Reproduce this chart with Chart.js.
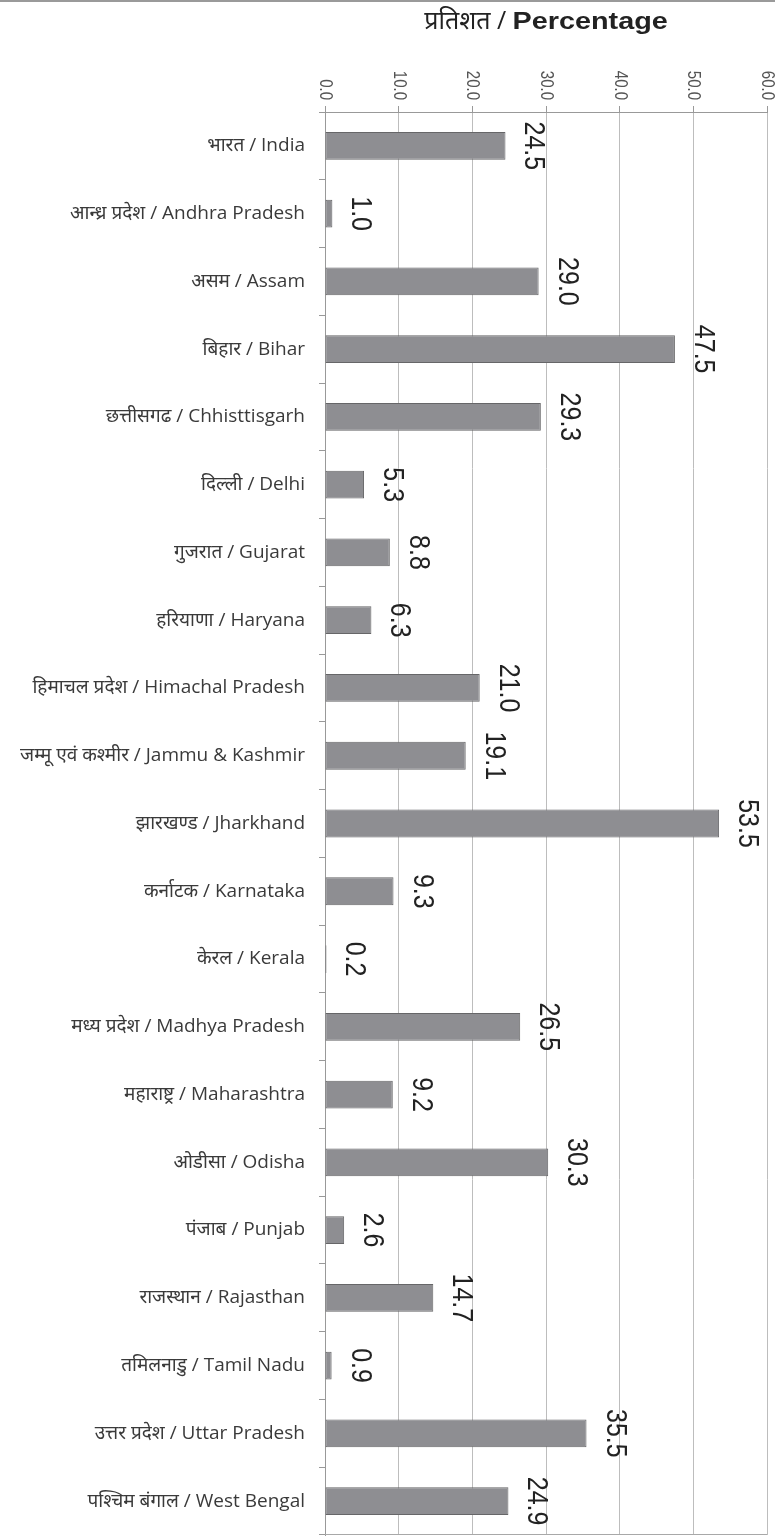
<!DOCTYPE html>
<html>
<head>
<meta charset="utf-8">
<script src="https://cdn.jsdelivr.net/npm/chart.js@4.4.1/dist/chart.umd.min.js"></script>
<style>
  html, body { margin: 0; padding: 0; background: #fff; }
  #wrap { width: 775px; height: 1539px; }
</style>
</head>
<body>
<div id="wrap"><canvas id="chart" width="775" height="1539"></canvas></div>
<script>
// Data
const statesHindi = [
    'भारत', 'आन्ध्र प्रदेश', 'असम', 'बिहार', 'छत्तीसगढ', 'दिल्ली', 'गुजरात',
    'हरियाणा', 'हिमाचल प्रदेश', 'जम्मू एवं कश्मीर', 'झारखण्ड', 'कर्नाटक', 'केरल',
    'मध्य प्रदेश', 'महाराष्ट्र', 'ओडीसा', 'पंजाब', 'राजस्थान', 'तमिलनाडु',
    'उत्तर प्रदेश', 'पश्चिम बंगाल'
];
const statesEnglish = [
    'India', 'Andhra Pradesh', 'Assam', 'Bihar', 'Chhisttisgarh', 'Delhi', 'Gujarat',
    'Haryana', 'Himachal Pradesh', 'Jammu & Kashmir', 'Jharkhand', 'Karnataka', 'Kerala',
    'Madhya Pradesh', 'Maharashtra', 'Odisha', 'Punjab', 'Rajasthan', 'Tamil Nadu',
    'Uttar Pradesh', 'West Bengal'
];
const percentages = [
    24.5, 1.0, 29.0, 47.5, 29.3, 5.3, 8.8,
    6.3, 21.0, 19.1, 53.5, 9.3, 0.2,
    26.5, 9.2, 30.3, 2.6, 14.7, 0.9,
    35.5, 24.9
];
const axisMin = 0;
const axisMax = 60;
const axisStep = 10;
const titleHindi = 'प्रतिशत';
const titleEnglish = 'Percentage';

const labels = statesHindi.map((h, i) => `${h} / ${statesEnglish[i]}`);

const sansStack = '"Open Sans", "Noto Sans", "Noto Sans Devanagari", sans-serif';
const arialStack = '"Liberation Sans", Arial, "Noto Sans Devanagari", sans-serif';
const stretch = 1.2; // reference glyphs look a bit wide

// Draws the rotated tick labels, the value labels, the title and the frame
const overlay = {
    id: 'overlay',
    afterDraw(chart) {
        const { ctx, chartArea: a, scales: { x, y } } = chart;
        ctx.save();

        // thin rule at the very top
        ctx.strokeStyle = '#9a9a9a';
        ctx.lineWidth = 2;
        ctx.beginPath();
        ctx.moveTo(0, 1);
        ctx.lineTo(chart.width, 1);
        ctx.stroke();

        // bottom edge of the plot box
        ctx.strokeStyle = '#a8a8a8';
        ctx.lineWidth = 1;
        ctx.beginPath();
        ctx.moveTo(a.left, a.bottom - 0.5);
        ctx.lineTo(a.right, a.bottom - 0.5);
        ctx.stroke();

        // x tick labels, turned clockwise
        ctx.fillStyle = '#555';
        ctx.font = '15px ' + arialStack;
        ctx.textAlign = 'right';
        ctx.textBaseline = 'middle';
        x.ticks.forEach(t => {
            const px = x.getPixelForValue(t.value);
            ctx.save();
            ctx.translate(px, a.top - 12);
            ctx.rotate(Math.PI / 2);
            ctx.scale(1, stretch);
            ctx.fillText(t.value.toFixed(1), 0, 0);
            ctx.restore();
        });

        // value labels at the bar ends
        ctx.fillStyle = '#222';
        ctx.font = '25px ' + arialStack;
        ctx.textAlign = 'center';
        ctx.textBaseline = 'alphabetic';
        const meta = chart.getDatasetMeta(0);
        meta.data.forEach((bar, i) => {
            ctx.save();
            ctx.translate(bar.x + 20, bar.y);
            ctx.rotate(Math.PI / 2);
            ctx.scale(1, stretch);
            ctx.fillText(percentages[i].toFixed(1), 0, 0);
            ctx.restore();
        });

        // title: Hindi regular + English bold, centred over the plot
        const cx = (a.left + a.right) / 2;
        ctx.textAlign = 'left';
        ctx.textBaseline = 'alphabetic';
        const hFont = '25px ' + sansStack;
        const eFont = 'bold 24px ' + arialStack;
        ctx.font = hFont;
        const hPart = titleHindi + ' / ';
        const hw = ctx.measureText(hPart).width;
        ctx.font = eFont;
        const ew = ctx.measureText(titleEnglish).width * stretch;
        let tx = cx - (hw + ew) / 2;
        ctx.fillStyle = '#222';
        ctx.font = hFont;
        ctx.fillText(hPart, tx, 29);
        ctx.save();
        ctx.translate(tx + hw, 29);
        ctx.scale(stretch, 1);
        ctx.font = eFont;
        ctx.fillText(titleEnglish, 0, 0);
        ctx.restore();

        ctx.restore();
    }
};

const ctx = document.getElementById('chart').getContext('2d');
new Chart(ctx, {
    type: 'bar',
    data: {
        labels: labels,
        datasets: [{
            data: percentages,
            backgroundColor: '#8e8e92',
            borderColor: '#666668',
            borderWidth: 1,
            borderSkipped: false,
            barPercentage: 0.41,
            categoryPercentage: 1.0
        }]
    },
    options: {
        indexAxis: 'y',
        responsive: false,
        devicePixelRatio: 1,
        animation: false,
        layout: { padding: { left: 0, top: 0, right: 8, bottom: 4 } },
        plugins: {
            legend: { display: false },
            title: { display: false },
            tooltip: { enabled: false }
        },
        scales: {
            x: {
                position: 'top',
                min: axisMin,
                max: axisMax,
                ticks: { display: false, stepSize: axisStep },
                grid: { color: '#bdbdbd', lineWidth: 1, tickLength: 6, tickColor: '#999' },
                border: { color: '#999' },
                afterFit(scale) {
                    scale.height = 112;
                    scale.paddingLeft = 0;
                    scale.paddingRight = 0;
                }
            },
            y: {
                ticks: {
                    color: '#3a3a3a',
                    font: { family: sansStack, size: 19 },
                    padding: 14,
                    autoSkip: false
                },
                grid: { drawOnChartArea: false, tickLength: 6, color: '#999' },
                border: { color: '#999' },
                afterFit(scale) {
                    scale.width = 325;
                    scale.paddingTop = 0;
                    scale.paddingBottom = 0;
                }
            }
        }
    },
    plugins: [overlay]
});
</script>
</body>
</html>
